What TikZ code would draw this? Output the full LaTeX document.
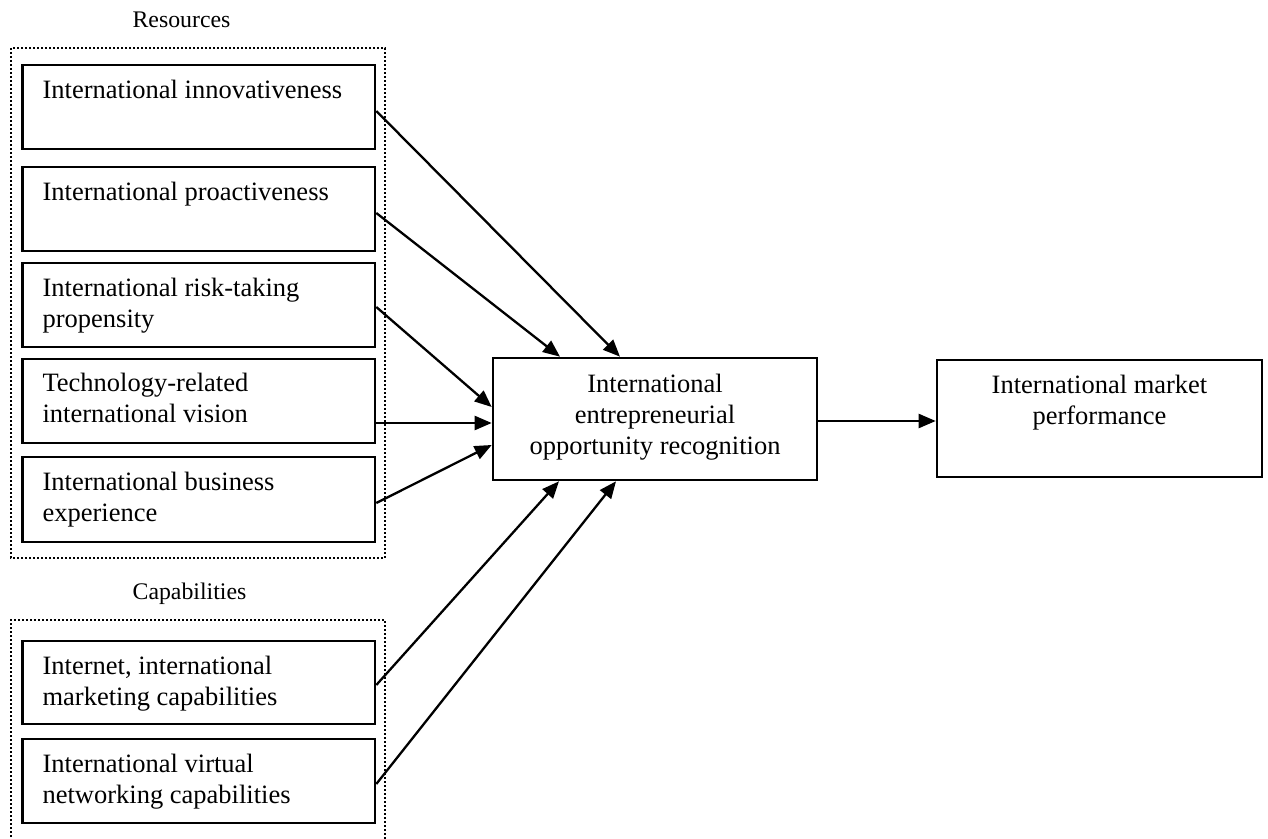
\documentclass[tikz,border=0pt]{standalone}
\usepackage{fontspec}
\setmainfont{Liberation Serif}
\usetikzlibrary{arrows.meta,calc}

\begin{document}
\begin{tikzpicture}[
  x=0.5pt, y=-0.5pt,
  box/.style={draw, line width=1.3pt, inner sep=0pt, minimum width=176.25pt, minimum height=42pt},
  txt/.style={inner sep=0pt, align=left, font=\fontsize{13.25}{15.8}\selectfont},
  ctxt/.style={inner sep=0pt, align=center, font=\fontsize{13.25}{15.5}\selectfont},
  grp/.style={inner sep=0pt, font=\fontsize{11.9}{14}\selectfont},
  frame/.style={line width=1.2pt, dash pattern=on 1pt off 1pt},
  link/.style={line width=1.15pt, -{Triangle[length=8.5pt, width=7pt]}}
]
\useasboundingbox (0,0) rectangle (1268,839);

% group frames
\node[grp, anchor=base] (res) at (181.5,28) {Resources};
\draw[frame] (11,48) rectangle (385,558);
\node[grp, anchor=base] (cap) at (189.5,599) {Capabilities};
\draw[frame] (11,845) -- (11,620) -- (385,620) -- (385,845);

% resource boxes
\node[box] (b1) at (198.75,107) {};
\node[box] (b2) at (198.75,209) {};
\node[box] (b3) at (198.75,305) {};
\node[box] (b4) at (198.75,401) {};
\node[box, minimum height=42.5pt] (b5) at (198.75,499.5) {};
% capability boxes
\node[box, minimum height=41.5pt] (b6) at (198.75,682.5) {};
\node[box] (b7) at (198.75,781) {};

% box texts (base anchor sits on the last line)
\node[txt, anchor=base west] (t1) at ($(b1.north west)+(21,35)$) {International innovativeness};
\node[txt, anchor=base west] (t2) at ($(b2.north west)+(21,35)$) {International proactiveness};
\node[txt, anchor=base west] (t3) at ($(b3.north west)+(21,66)$) {International risk-taking\\propensity};
\node[txt, anchor=base west] (t4) at ($(b4.north west)+(21,65)$) {Technology-related\\international vision};
\node[txt, anchor=base west] (t5) at ($(b5.north west)+(21,66)$) {International business\\experience};
\node[txt, anchor=base west] (t6) at ($(b6.north west)+(21,66)$) {Internet, international\\marketing capabilities};
\node[txt, anchor=base west] (t7) at ($(b7.north west)+(21,66)$) {International virtual\\networking capabilities};

% central and outcome boxes
\node[box, minimum width=162pt, minimum height=61pt] (ieor) at (655,419) {};
\node[ctxt, anchor=base] (tieor) at ($(ieor.north)+(0,98)$) {International\\entrepreneurial\\opportunity recognition};
\node[box, minimum width=162.5pt, minimum height=58.5pt] (imp) at (1099.5,418.5) {};
\node[ctxt, anchor=base] (timp) at ($(imp.north)+(0,66)$) {International market\\performance};

% connectors
\draw[link] ($(b1.east)+(0,4)$) -- ($(ieor.north)+(-35,0)$);
\draw[link] ($(b2.east)+(0,4)$) -- ($(ieor.north)+(-95,0)$);
\draw[link] ($(b3.east)+(0,2)$) -- ($(ieor.west)+(0,-12)$);
\draw[link] ($(b4.east)+(0,22)$) -- ($(ieor.west)+(0,4)$);
\draw[link] ($(b5.east)+(0,3.5)$) -- ($(ieor.west)+(0,26)$);
\draw[link] ($(b6.east)+(0,2.5)$) -- ($(ieor.south)+(-96,0)$);
\draw[link] ($(b7.east)+(0,3)$) -- ($(ieor.south)+(-39,0)$);
\draw[link] ($(ieor.east)+(0,2)$) -- ($(imp.west)+(0,2.5)$);
\end{tikzpicture}
\end{document}
